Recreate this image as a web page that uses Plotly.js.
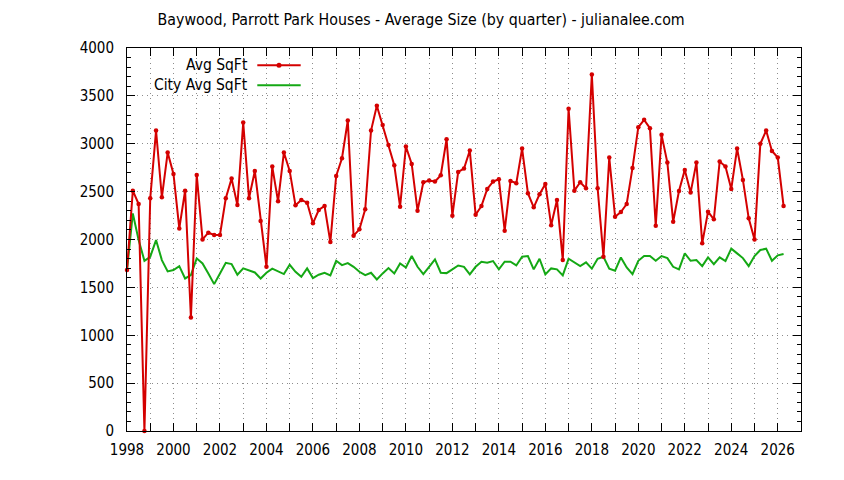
<!DOCTYPE html>
<html>
<head>
<meta charset="utf-8">
<script src="https://cdn.plot.ly/plotly-3.0.1.min.js"></script>
<style>
  html, body { margin: 0; padding: 0; background: #fff; }
  #chart { width: 844px; height: 480px; }
</style>
</head>
<body>
<div id="chart"></div>
<script>
// Quarterly series, first quarter = 1998 Q1
const startYear = 1998;
const avgSqFt = [
  1681, 2510, 2371, 0, 2430, 3138, 2441, 2908, 2685, 2116, 2510, 1185,
  2674, 2001, 2071, 2047, 2047, 2430, 2636, 2360, 3222, 2430, 2716, 2193,
  1715, 2762, 2399, 2908, 2716, 2357, 2413, 2385, 2169, 2308, 2350, 1973,
  2664, 2849, 3243, 2040, 2106, 2315, 3138, 3396, 3197, 2988, 2775, 2343,
  2971, 2789, 2301, 2598, 2615, 2605, 2671, 3047, 2249, 2706, 2741, 2929,
  2259, 2350, 2528, 2605, 2629, 2092, 2612, 2587, 2950, 2483, 2336, 2472,
  2580, 2148, 2413, 1785, 3365, 2510, 2598, 2535, 3724, 2535, 1820, 2856,
  2238, 2287, 2371, 2748, 3173, 3250, 3163, 2144, 3093, 2803, 2186, 2507,
  2727, 2490, 2803, 1960, 2291, 2211, 2814, 2762, 2528, 2950, 2622, 2221,
  2001, 2999, 3138, 2925, 2856, 2350
];
const cityAvgSqFt = [
  1681, 2273, 1994, 1778, 1820, 1994, 1785, 1667, 1681, 1722, 1593, 1628,
  1803, 1750, 1646, 1534, 1646, 1757, 1743, 1632, 1698, 1674, 1656, 1593,
  1653, 1695, 1670, 1639, 1736, 1663, 1611, 1698, 1597, 1632, 1653, 1625,
  1778, 1733, 1754, 1715, 1663, 1628, 1653, 1583, 1646, 1701, 1646, 1750,
  1708, 1827, 1715, 1639, 1715, 1792, 1653, 1649, 1688, 1729, 1715, 1635,
  1715, 1768, 1757, 1775, 1688, 1768, 1768, 1729, 1820, 1827, 1688, 1799,
  1635, 1698, 1688, 1625, 1799, 1761, 1722, 1761, 1695, 1799, 1820, 1695,
  1674, 1813, 1708, 1639, 1778, 1827, 1827, 1778, 1827, 1806, 1715, 1688,
  1855, 1778, 1785, 1722, 1813, 1743, 1813, 1775, 1904, 1855, 1806, 1722,
  1827, 1890, 1904, 1778, 1834, 1848
];
const seriesNames = ["Avg SqFt", "City Avg SqFt"];
const titleText = "Baywood, Parrott Park Houses - Average Size (by quarter) - julianalee.com";

const quarters = avgSqFt.map((_, i) => startYear + i / 4);

const RED = "#d40000";
const GREEN = "#14a814";
const FONT = "DejaVu Sans Condensed, DejaVu Sans, sans-serif";

const traces = [
  {
    x: quarters, y: cityAvgSqFt, type: "scatter", mode: "lines",
    name: seriesNames[1], line: { color: GREEN, width: 2 }
  },
  {
    x: quarters, y: avgSqFt, type: "scatter", mode: "lines+markers",
    name: seriesNames[0], line: { color: RED, width: 2 },
    marker: { color: RED, size: 4.5 }, cliponaxis: false
  }
];

const gridCol = "#8c8c8c";
const gridDash = "1px,4px";
const L = 127, R = 801, T = 48, B = 431;
const pw = R - L, ph = B - T;
const px = v => (v - L) / pw;
const py = v => (B - v) / ph;

const layout = {
  width: 844, height: 480,
  margin: { l: L, r: 844 - R, t: T, b: 480 - B, pad: 0 },
  paper_bgcolor: "#fff", plot_bgcolor: "#fff",
  showlegend: false,
  font: { family: FONT, size: 15, color: "#000" },
  title: {
    text: titleText, x: 0.499, xref: "container", xanchor: "center",
    y: 1 - 19 / 480, yref: "container", yanchor: "middle",
    font: { family: FONT, size: 15.8, color: "#000" }
  },
  xaxis: {
    range: [1998, 2027], tick0: 1998, dtick: 2,
    ticks: "inside", ticklen: 8, tickcolor: "#000", tickwidth: 1,
    showline: true, linecolor: "#000", linewidth: 1, mirror: "ticks",
    showgrid: true, gridcolor: gridCol, griddash: gridDash, gridwidth: 1,
    zeroline: false, ticklabelstandoff: 5,
    tickfont: { family: FONT, size: 15, color: "#000" },
    minor: { dtick: 1, tick0: 1998, ticks: "inside", ticklen: 8, tickcolor: "#000",
             showgrid: true, gridcolor: gridCol, griddash: gridDash, gridwidth: 1 }
  },
  yaxis: {
    range: [0, 4000], tick0: 0, dtick: 500,
    ticks: "inside", ticklen: 8, tickcolor: "#000", tickwidth: 1,
    showline: true, linecolor: "#000", linewidth: 1, mirror: "ticks",
    showgrid: true, gridcolor: gridCol, griddash: gridDash, gridwidth: 1,
    zeroline: false, ticklabelstandoff: 9,
    tickfont: { family: FONT, size: 15, color: "#000" },
    minor: { dtick: 100, ticks: "inside", ticklen: 4, tickcolor: "#000", showgrid: false }
  },
  annotations: [
    { text: seriesNames[0], xref: "paper", yref: "paper", x: px(250), y: py(65.3),
      xanchor: "right", yanchor: "middle", showarrow: false,
      font: { family: FONT, size: 15.5, color: "#000" } },
    { text: seriesNames[1], xref: "paper", yref: "paper", x: px(250), y: py(85.3),
      xanchor: "right", yanchor: "middle", showarrow: false,
      font: { family: FONT, size: 15.5, color: "#000" } }
  ],
  shapes: [
    { type: "line", xref: "paper", yref: "paper", x0: px(257.3), x1: px(300.7),
      y0: py(65.3), y1: py(65.3), line: { color: RED, width: 2 } },
    { type: "circle", xref: "paper", yref: "paper", xsizemode: "pixel", ysizemode: "pixel",
      xanchor: px(279), yanchor: py(65.3), x0: -2.5, x1: 2.5, y0: -2.5, y1: 2.5,
      fillcolor: RED, line: { color: RED, width: 0 } },
    { type: "line", xref: "paper", yref: "paper", x0: px(257.3), x1: px(300.7),
      y0: py(85.3), y1: py(85.3), line: { color: GREEN, width: 2 } }
  ]
};

Plotly.newPlot("chart", traces, layout, { displayModeBar: false, staticPlot: true });
</script>
</body>
</html>
